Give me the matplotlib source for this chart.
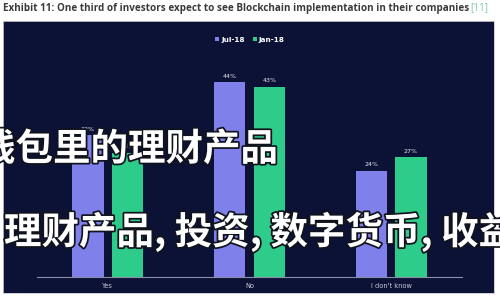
import matplotlib.pyplot as plt
import matplotlib.patheffects as pe
import numpy as np

categories = ['Yes', 'No', "I don't know"]
jul_18 = [32, 44, 24]
jan_18 = [28, 43, 27]
series_names = ['Jul-18', 'Jan-18']
title = 'Exhibit 11: One third of investors expect to see Blockchain implementation in their companies'
overlay_1 = '钱包里的理财产品'
overlay_2 = '理财产品, 投资, 数字货币, 收益'

navy = '#0b1236'
purple = '#8080ea'
green = '#2ecc8a'

fig = plt.figure(figsize=(5, 3), dpi=100)
fig.patch.set_facecolor('white')

# dark panel behind the chart
bg = fig.add_axes([3 / 500, 1 - 293 / 300, 491 / 500, 272 / 300], zorder=-1)
bg.set_facecolor(navy)
bg.set_xticks([])
bg.set_yticks([])
for s in bg.spines.values():
    s.set_color('#c8c8d0')
    s.set_linewidth(0.6)

fig.text(3 / 500, 1 - 8 / 300, title, fontsize=7.1, fontweight='bold',
         color='#3a3a3a', family='Open Sans', va='center', ha='left')
fig.text(488 / 500, 1 - 8 / 300, '[11]', fontsize=7.1, color='#7fc6b8',
         family='Open Sans', va='center', ha='right')

ax = fig.add_axes([37 / 500, 1 - 277 / 300, 425 / 500, 217 / 300], zorder=1)
ax.set_facecolor('none')
x = np.arange(len(categories))
w = 0.22
b1 = ax.bar(x - 0.14, jul_18, w, color=purple, label=series_names[0], zorder=2)
b2 = ax.bar(x + 0.14, jan_18, w, color=green, label=series_names[1], zorder=2)
for bars in (b1, b2):
    for r in bars:
        ax.text(r.get_x() + r.get_width() / 2, r.get_height() + 0.8,
                f'{r.get_height():.0f}%', ha='center', va='bottom',
                fontsize=4.5, color='#e8e8f0')
ax.set_xlim(-0.5, 2.5)
ax.set_ylim(0, 49)
ax.set_yticks([])
ax.set_xticks(x)
ax.set_xticklabels(categories, fontsize=4.8, color='#c8c8d8')
ax.tick_params(axis='x', length=0, pad=4)
for s in ['top', 'right', 'left']:
    ax.spines[s].set_visible(False)
ax.spines['bottom'].set_color('#8a8ea8')
ax.spines['bottom'].set_linewidth(0.8)

leg = fig.legend(handles=[b1, b2], labels=series_names, loc='center',
                 bbox_to_anchor=(250 / 500, 1 - 40 / 300), ncol=2, frameon=False,
                 fontsize=5.2, handlelength=0.5, handleheight=0.5,
                 handletextpad=0.3, columnspacing=1.2, labelcolor='white')
for t in leg.get_texts():
    t.set_fontweight('bold')

# watermark text over the chart
fx = [pe.withStroke(linewidth=2.5, foreground='#10131c')]
fig.text(-22 / 500, 1 - 149 / 300, overlay_1, fontsize=27, fontweight='bold',
         color='white', family=['Noto Sans CJK SC', 'DejaVu Sans'],
         va='center', ha='left', path_effects=fx, zorder=10)
fig.text(4 / 500, 1 - 232 / 300, overlay_2, fontsize=27, fontweight='bold',
         color='white', family=['Noto Sans CJK SC', 'DejaVu Sans'],
         va='center', ha='left', path_effects=fx, zorder=10)

fig.savefig('out.png', dpi=100, facecolor='white')
